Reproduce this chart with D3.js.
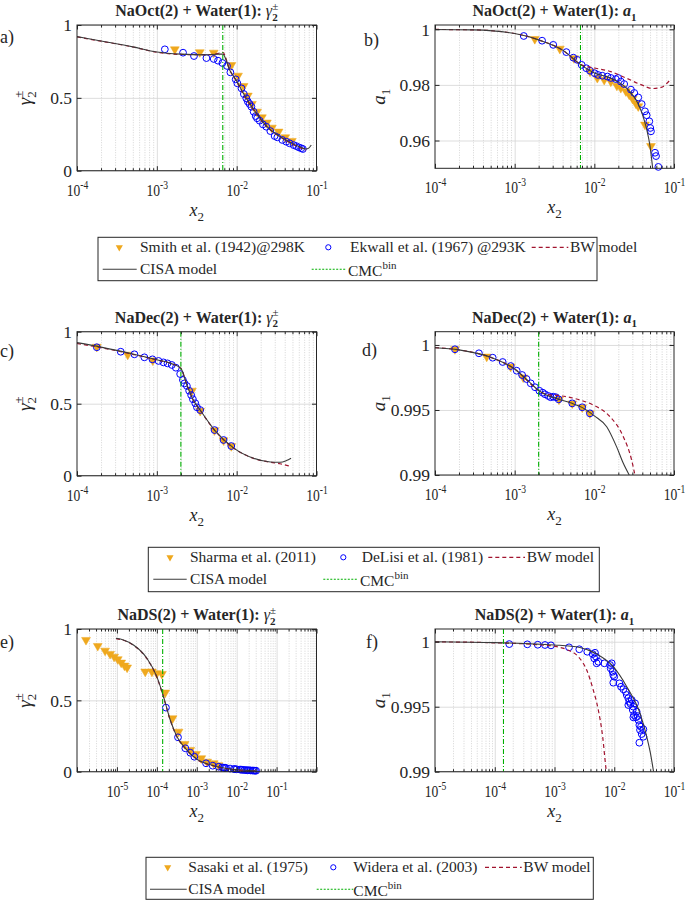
<!DOCTYPE html>
<html><head><meta charset="utf-8">
<script src="https://cdn.jsdelivr.net/npm/d3@7"></script>
<style>
body{margin:0;background:#fff}
svg{display:block}
text{font-family:"Liberation Serif","Times New Roman",Times,serif;fill:#262626}
</style>
</head><body>
<svg id="c" width="685" height="901"></svg>
<script>
// ---------------- DATA ----------------
// Panel a: NaOct gamma
const smithA = [[1.68e-3,0.833],[3.45e-3,0.813],[5.16e-3,0.81],[8.59e-3,0.725],[1.04e-2,0.652],[1.22e-2,0.581],[1.38e-2,0.515],[1.55e-2,0.458],[1.8e-2,0.405],[2.07e-2,0.366],[2.39e-2,0.33],[2.76e-2,0.295],[3.35e-2,0.268],[4.06e-2,0.229],[4.91e-2,0.204]];
const ekwallA = [[1.26e-3,0.833],[2.13e-3,0.81],[2.92e-3,0.787],[4.18e-3,0.773],[5.16e-3,0.767],[5.84e-3,0.755],[6.63e-3,0.739],[7.57e-3,0.719],[8.34e-3,0.675],[9.72e-3,0.627],[1.02e-2,0.6],[1.15e-2,0.565],[1.23e-2,0.526],[1.32e-2,0.497],[1.38e-2,0.474],[1.45e-2,0.458],[1.53e-2,0.439],[1.63e-2,0.405],[1.73e-2,0.375],[1.8e-2,0.36],[1.94e-2,0.343],[2.13e-2,0.318],[2.35e-2,0.302],[2.64e-2,0.272],[2.99e-2,0.238],[3.23e-2,0.229],[3.73e-2,0.211],[4.18e-2,0.199],[4.6e-2,0.188],[5.16e-2,0.176],[5.57e-2,0.169],[6.01e-2,0.16],[6.44e-2,0.154],[6.75e-2,0.149]];
const cisaA = [[1e-4,0.92],[2e-4,0.89],[5e-4,0.85],[1e-3,0.815],[2e-3,0.80],[4e-3,0.795],[6e-3,0.80],[6.7e-3,0.80],[8.2e-3,0.69],[9.9e-3,0.62],[1.32e-2,0.497],[1.77e-2,0.394],[2.35e-2,0.307],[3.8e-2,0.222],[6.1e-2,0.165],[7.4e-2,0.149],[8e-2,0.155],[8.6e-2,0.176]];
const bwA = [[1e-4,0.918],[2e-4,0.889],[5e-4,0.849],[1e-3,0.813],[2e-3,0.798],[4e-3,0.796],[6e-3,0.806],[6.7e-3,0.812],[8.2e-3,0.69],[9.9e-3,0.615],[1.32e-2,0.49],[1.77e-2,0.39],[2.35e-2,0.305],[3.8e-2,0.22],[6.1e-2,0.16],[7.4e-2,0.14]];
// Panel b: NaOct a1
const smithB = [[1.79e-3,0.9965],[3.69e-3,0.993],[5.55e-3,0.9896],[8.83e-3,0.9848],[1.09e-2,0.9825],[1.33e-2,0.9818],[1.61e-2,0.9812],[1.92e-2,0.9797],[2.15e-2,0.9789],[2.49e-2,0.9777],[2.74e-2,0.9765],[3.02e-2,0.975],[3.33e-2,0.9733],[3.56e-2,0.9723],[4.32e-2,0.9657],[5.14e-2,0.958]];
const ekwallB = [[1.3e-3,0.9976],[2.21e-3,0.9959],[3.05e-3,0.9944],[4.45e-3,0.9918],[5.45e-3,0.9898],[6.12e-3,0.989],[6.94e-3,0.9872],[7.94e-3,0.986],[8.82e-3,0.9851],[1.01e-2,0.9842],[1.11e-2,0.9836],[1.26e-2,0.9833],[1.46e-2,0.983],[1.61e-2,0.9825],[1.86e-2,0.9821],[1.99e-2,0.9825],[2.15e-2,0.9812],[2.37e-2,0.9803],[2.88e-2,0.9783],[3.17e-2,0.9771],[3.56e-2,0.9755],[3.93e-2,0.9731],[4.32e-2,0.9705],[4.54e-2,0.9691],[4.9e-2,0.9669],[5.04e-2,0.9645],[5.14e-2,0.9633],[5.78e-2,0.9556],[5.95e-2,0.9544],[6.36e-2,0.9505]];
const cisaB = [[1e-4,0.99995],[3e-4,0.9998],[1e-3,0.9985],[2e-3,0.9962],[4e-3,0.9925],[6.8e-3,0.9872],[1e-2,0.9843],[1.5e-2,0.9828],[2e-2,0.981],[2.5e-2,0.979],[3e-2,0.9765],[3.5e-2,0.9735],[4e-2,0.9695],[4.5e-2,0.9645],[5e-2,0.958],[5.4e-2,0.95]];
const bwB = [[1e-4,0.99995],[3e-4,0.9998],[1e-3,0.9985],[2e-3,0.9962],[4e-3,0.9925],[6.8e-3,0.9873],[1.04e-2,0.986],[1.61e-2,0.9848],[2.49e-2,0.9825],[3.85e-2,0.9801],[5.4e-2,0.9787],[6.88e-2,0.9791],[8.75e-2,0.9815]];
// Panel c: NaDec gamma
const sharmaC = [[1.77e-4,0.895],[4.32e-4,0.84],[8.9e-4,0.80],[2.75e-3,0.59],[3.49e-3,0.45],[5.28e-3,0.315],[6.85e-3,0.245],[8.56e-3,0.205]];
const delisiC = [[1.77e-4,0.892],[3.53e-4,0.861],[5.24e-4,0.843],[6.98e-4,0.822],[8.81e-4,0.808],[1.05e-3,0.797],[1.21e-3,0.787],[1.36e-3,0.78],[1.54e-3,0.769],[1.73e-3,0.75],[1.96e-3,0.706],[2.12e-3,0.665],[2.22e-3,0.641],[2.38e-3,0.623],[2.54e-3,0.59],[2.69e-3,0.56],[2.83e-3,0.531],[3.03e-3,0.503],[3.18e-3,0.475],[3.49e-3,0.456],[5.28e-3,0.317],[6.85e-3,0.248],[8.56e-3,0.206]];
const cisaC = [[1e-4,0.924],[2e-4,0.893],[5e-4,0.845],[1e-3,0.805],[1.5e-3,0.78],[2e-3,0.745],[2.38e-3,0.63],[2.8e-3,0.535],[3.49e-3,0.456],[5.28e-3,0.317],[9.3e-3,0.19],[1.63e-2,0.121],[2.64e-2,0.095],[3.5e-2,0.093],[4.2e-2,0.105],[4.8e-2,0.121]];
const bwC = [[1e-4,0.918],[2e-4,0.889],[5e-4,0.843],[1e-3,0.804],[1.5e-3,0.779],[2e-3,0.745],[2.38e-3,0.63],[2.8e-3,0.535],[3.49e-3,0.455],[5.28e-3,0.316],[9.3e-3,0.189],[1.63e-2,0.12],[2.64e-2,0.093],[3.5e-2,0.083],[4.8e-2,0.064]];
// Panel d: NaDec a1
const sharmaD = [[1.78e-4,0.99967],[4.46e-4,0.9991],[8.9e-4,0.99833],[1.28e-3,0.9975],[3.6e-3,0.9958],[5.28e-3,0.9955],[7.05e-3,0.9952],[8.8e-3,0.99474]];
const delisiD = [[1.78e-4,0.99967],[3.56e-4,0.99936],[5.3e-4,0.99902],[7.07e-4,0.99869],[8.91e-4,0.99838],[1.06e-3,0.99802],[1.24e-3,0.99769],[1.41e-3,0.99738],[1.59e-3,0.99705],[1.8e-3,0.99675],[2.04e-3,0.99648],[2.25e-3,0.99633],[2.4e-3,0.99621],[2.64e-3,0.99608],[2.83e-3,0.99598],[3.05e-3,0.99602],[3.3e-3,0.99598],[3.56e-3,0.99582],[5.28e-3,0.99551],[7.05e-3,0.99521],[8.8e-3,0.99474]];
const cisaD = [[1e-4,0.99979],[2e-4,0.99962],[5e-4,0.99905],[1e-3,0.99815],[1.5e-3,0.9972],[2e-3,0.9965],[2.5e-3,0.99615],[3.5e-3,0.99585],[5e-3,0.99555],[7e-3,0.9952],[1e-2,0.99455],[1.43e-2,0.99371],[1.9e-2,0.99218],[2.31e-2,0.9909],[2.74e-2,0.99]];
const bwD = [[1e-4,0.99979],[2e-4,0.99962],[5e-4,0.99905],[1e-3,0.99815],[2e-3,0.9965],[2.5e-3,0.9962],[3.7e-3,0.9961],[6.6e-3,0.99577],[9.7e-3,0.99538],[1.57e-2,0.99449],[2.31e-2,0.99295],[2.94e-2,0.99115],[3.23e-2,0.99]];
// Panel e: NaDS gamma
const sasakiE = [[1.68e-6,0.923],[3.31e-6,0.881],[5.06e-6,0.848],[6.75e-6,0.825],[8.51e-6,0.806],[1.05e-5,0.788],[1.28e-5,0.764],[1.55e-5,0.743],[1.8e-5,0.73],[5.12e-5,0.701],[7.54e-5,0.701],[1e-4,0.69],[1.34e-4,0.685],[1.62e-4,0.554],[2.48e-4,0.374],[3.51e-4,0.28],[4.96e-4,0.194],[6.9e-4,0.152],[9.6e-4,0.124],[1.3e-3,0.094],[1.82e-3,0.07],[2.66e-3,0.059],[3.5e-3,0.045]];
const wideraE = [[1.69e-4,0.449],[3.39e-4,0.241],[5.18e-4,0.164],[6.9e-4,0.133],[8.71e-4,0.105],[1.71e-3,0.059],[2.51e-3,0.042],[3.55e-3,0.035],[4.35e-3,0.03],[4.76e-3,0.028],[5.08e-3,0.027],[5.42e-3,0.026],[6.83e-3,0.022],[8.49e-3,0.019],[9.06e-3,0.018],[1e-2,0.017],[1.22e-2,0.015],[1.3e-2,0.014],[1.42e-2,0.013],[1.56e-2,0.012],[1.72e-2,0.011],[1.88e-2,0.010],[2.04e-2,0.010],[2.23e-2,0.009],[2.47e-2,0.008],[2.7e-2,0.008],[2.88e-2,0.007],[3.07e-2,0.007]];
const cisaE = [[9.5e-6,0.935],[1.46e-5,0.923],[2.6e-5,0.888],[5.64e-5,0.795],[1e-4,0.666],[1.47e-4,0.526],[2.17e-4,0.362],[3.2e-4,0.245],[5.18e-4,0.164],[1.02e-3,0.087],[2.66e-3,0.042],[8.45e-3,0.017],[2.96e-2,0.007]];
const bwE = [[9.5e-6,0.933],[1.46e-5,0.921],[2.6e-5,0.886],[5.64e-5,0.792],[1e-4,0.662],[1.47e-4,0.522],[2.17e-4,0.36],[3.2e-4,0.244],[5.18e-4,0.163],[1.02e-3,0.085],[2.66e-3,0.04],[8.45e-3,0.015],[2.96e-2,0.005]];
// Panel f: NaDS a1
const wideraF = [[1.75e-4,0.99982],[3.51e-4,0.9998],[5.24e-4,0.99977],[6.93e-4,0.99975],[8.73e-4,0.99972],[1.75e-3,0.99957],[2.6e-3,0.99942],[3.54e-3,0.99923],[4.35e-3,0.99905],[4.76e-3,0.99915],[4.63e-3,0.99872],[4.95e-3,0.99885],[5.08e-3,0.99834],[5.42e-3,0.99846],[6.83e-3,0.99834],[8.49e-3,0.99821],[9.06e-3,0.99834],[8.71e-3,0.99795],[9.41e-3,0.99769],[9.64e-3,0.99744],[1e-2,0.99731],[9.64e-3,0.99685],[1.22e-2,0.9968],[1.3e-2,0.99654],[1.42e-2,0.99634],[1.56e-2,0.99615],[1.62e-2,0.9959],[1.72e-2,0.99565],[1.79e-2,0.99538],[1.88e-2,0.99521],[1.72e-2,0.99513],[1.96e-2,0.99552],[2.09e-2,0.995],[2.23e-2,0.99526],[2.04e-2,0.99475],[2.14e-2,0.99436],[2.09e-2,0.99418],[2.31e-2,0.99418],[2.47e-2,0.99428],[2.53e-2,0.99398],[2.63e-2,0.99359],[2.7e-2,0.99321],[2.63e-2,0.99223],[2.88e-2,0.9929],[3.07e-2,0.99269],[3.07e-2,0.99326],[2.8e-2,0.99346],[2.37e-2,0.99462]];
const cisaF = [[1e-5,1.0],[1e-4,0.99993],[5e-4,0.99982],[1e-3,0.99975],[2.66e-3,0.99955],[5.08e-3,0.99905],[9.64e-3,0.99808],[1.62e-2,0.99654],[2.7e-2,0.99449],[3.5e-2,0.99269],[4e-2,0.9915],[4.55e-2,0.99]];
const bwF = [[1e-5,0.99999],[1e-4,0.99992],[5e-4,0.99978],[1.09e-3,0.99962],[1.7e-3,0.99935],[2.5e-3,0.99885],[3.46e-3,0.99782],[4.46e-3,0.99628],[5.41e-3,0.99475],[6.4e-3,0.99269],[7.27e-3,0.99026],[7.4e-3,0.99]];
// CMC values
const cmcOct = 6.7e-3, cmcDec = 2.0e-3, cmcDS = 1.4e-4;
// Tick values / labels
const yTicksGamma = [0, 0.5, 1];
const yTicksB = [0.96, 0.98, 1];
const yTicksDF = [0.99, 0.995, 1];
const legendLabels1 = ["Smith et al. (1942)@298K", "Ekwall et al. (1967) @293K"];
const legendLabels2 = ["Sharma et al. (2011)", "DeLisi et al. (1981)"];
const legendLabels3 = ["Sasaki et al. (1975)", "Widera et al. (2003)"];

// ---------------- DRAWING ----------------
const svg = d3.select('#c');
const AX = '#262626', ORANGE = '#EFA81E', BLUE = '#0000FF', RED = '#A2142F', GREEN = '#00B000', CISA = '#3a3a3a';
let clipId = 0;

function fmtY(d){ return d===0?'0':d===1?'1':String(d); }

function drawPanel(p) {
  const x = d3.scaleLog().domain(p.xd).range([p.L, p.R]);
  const y = d3.scaleLinear().domain(p.yd).range([p.B, p.T]);
  const g = svg.append('g');
  const lo = Math.round(Math.log10(p.xd[0])), hi = Math.round(Math.log10(p.xd[1]));
  const decades = d3.range(lo, hi+1).map(e => Math.pow(10, e));
  const minors = [];
  for (let e = lo; e < hi; e++) for (let k = 2; k <= 9; k++) minors.push(k*Math.pow(10, e));
  const H = p.B - p.T, W = p.R - p.L;
  // minor grid
  const mg = g.append('g').attr('transform', `translate(0,${p.B})`)
    .call(d3.axisBottom(x).tickValues(minors).tickSize(-H).tickFormat(''));
  mg.select('.domain').remove();
  mg.selectAll('line').attr('stroke', '#b8b8b8').attr('stroke-width', 0.6).attr('stroke-dasharray', '1,1.5');
  // major grid x
  const Mg = g.append('g').attr('transform', `translate(0,${p.B})`)
    .call(d3.axisBottom(x).tickValues(decades.slice(1, -1)).tickSize(-H).tickFormat(''));
  Mg.select('.domain').remove();
  Mg.selectAll('line').attr('stroke', '#d4d4d4').attr('stroke-width', 0.8);
  // major grid y
  const Yg = g.append('g').attr('transform', `translate(${p.L},0)`)
    .call(d3.axisLeft(y).tickValues(p.yt).tickSize(-W).tickFormat(''));
  Yg.select('.domain').remove();
  Yg.selectAll('line').attr('stroke', '#d4d4d4').attr('stroke-width', 0.8);

  // clip
  const cid = 'clip' + (clipId++);
  svg.append('clipPath').attr('id', cid).append('rect')
    .attr('x', p.L).attr('y', p.T).attr('width', W).attr('height', H);

  const line = d3.line().x(d => x(d[0])).y(d => y(d[1])).curve(d3.curveMonotoneX);
  // markers
  const tri = d3.symbol(d3.symbolTriangle, 34)();
  g.append('g').selectAll('path').data(p.tri).join('path')
    .attr('d', tri).attr('transform', d => `translate(${x(d[0])},${y(d[1])}) rotate(180)`)
    .attr('fill', ORANGE).attr('stroke', ORANGE).attr('stroke-width', 0.5);
  g.append('g').selectAll('circle').data(p.circ).join('circle')
    .attr('cx', d => x(d[0])).attr('cy', d => y(d[1])).attr('r', 3.4)
    .attr('fill', 'none').attr('stroke', BLUE).attr('stroke-width', 1);
  const lg = g.append('g').attr('clip-path', `url(#${cid})`);
  lg.append('path').datum(p.bw).attr('d', line).attr('fill', 'none')
    .attr('stroke', RED).attr('stroke-width', 1.2).attr('stroke-dasharray', '4,3');
  lg.append('path').datum(p.cisa).attr('d', line).attr('fill', 'none')
    .attr('stroke', CISA).attr('stroke-width', 1.1);
  lg.append('line').attr('x1', x(p.cmc)).attr('x2', x(p.cmc)).attr('y1', p.T).attr('y2', p.B)
    .attr('stroke', GREEN).attr('stroke-width', 1.1).attr('stroke-dasharray', '5,2,1,2');

  // frame
  g.append('rect').attr('x', p.L).attr('y', p.T).attr('width', W).attr('height', H)
    .attr('fill', 'none').attr('stroke', AX).attr('stroke-width', 1);

  // ticks
  function tk(axis, tr, vals, size, labels) {
    const a = g.append('g').attr('transform', tr).call(axis.tickValues(vals).tickSize(size).tickPadding(5).tickFormat(labels || ''));
    a.select('.domain').remove();
    a.selectAll('line').attr('stroke', AX).attr('stroke-width', 1);
    return a;
  }
  tk(d3.axisBottom(x), `translate(0,${p.B})`, minors, -2.5);
  tk(d3.axisTop(x), `translate(0,${p.T})`, minors, -2.5);
  tk(d3.axisTop(x), `translate(0,${p.T})`, decades, -4.5);
  const xb = tk(d3.axisBottom(x), `translate(0,${p.B})`, decades, -4.5, d => String(Math.round(Math.log10(d))));
  xb.selectAll('text').each(function(d) {
    const t = d3.select(this);
    const e = Math.round(Math.log10(d));
    t.text(null).attr('dy', null).attr('y', 25).attr('font-size', 17).attr('fill', AX)
      .attr('transform', 'scale(0.8,1)').style('font-family', '"Liberation Serif",serif');
    if (!p.xl.includes(e)) return;
    t.append('tspan').text('10');
    t.append('tspan').attr('dy', -7).attr('font-size', 12).text('-' + Math.abs(e));
  });
  const yl = tk(d3.axisLeft(y), `translate(${p.L},0)`, p.yt, -4.5, fmtY);
  yl.selectAll('text').attr('font-size', 17.5).attr('fill', AX).attr('dy', '0.33em')
    .style('font-family', '"Liberation Serif",serif');
  tk(d3.axisRight(y), `translate(${p.R},0)`, p.yt, -4.5);

  // title
  const cx = (p.L + p.R) / 2;
  const t = svg.append('text').attr('x', cx).attr('y', p.T - 9).attr('text-anchor', 'middle')
    .attr('font-size', 16).attr('font-weight', 'bold').attr('fill', '#000');
  t.append('tspan').text(p.title + ' ');
  if (p.kind === 'g') {
    t.append('tspan').attr('font-style', 'italic').attr('font-weight', 'normal').text('γ');
    t.append('tspan').attr('font-size', 11).attr('dy', 4.5).text('2');
    t.append('tspan').attr('font-size', 11).attr('font-weight', 'normal').attr('dx', -5.5).attr('dy', -11).text('±');
  } else {
    t.append('tspan').attr('font-style', 'italic').text('a');
    t.append('tspan').attr('font-size', 11).attr('dy', 4.5).text('1');
  }
  // y label
  const cy = (p.T + p.B) / 2;
  const yt = svg.append('text').attr('transform', `translate(${p.kind==='g' ? p.L - 46 : p.L - 50},${cy}) rotate(-90)`)
    .attr('text-anchor', 'middle').attr('font-size', 19).attr('fill', AX);
  if (p.kind === 'g') {
    yt.append('tspan').attr('font-style', 'italic').text('γ');
    yt.append('tspan').attr('font-size', 13).attr('dy', 5).text('2');
    yt.append('tspan').attr('font-size', 13).attr('dx', -6.5).attr('dy', -13).text('±');
  } else {
    yt.append('tspan').attr('font-style', 'italic').text('a');
    yt.append('tspan').attr('font-size', 13).attr('dy', 5).text('1');
  }
  // x label
  const xt = svg.append('text').attr('x', cx).attr('y', p.B + 45).attr('text-anchor', 'middle')
    .attr('font-size', 18).attr('fill', AX);
  xt.append('tspan').attr('font-style', 'italic').text('x');
  xt.append('tspan').attr('font-size', 13).attr('dy', 5).text('2');
  // panel letter
  svg.append('text').attr('x', p.lx).attr('y', p.ly).attr('font-size', 18).attr('fill', '#000').text(p.letter);
}

const colL = {L: 77, R: 316.5}, colR = {L: 435, R: 674};
drawPanel({...colL, T: 25, B: 170.7, xd: [1e-4, 1e-1], yd: [0, 1], yt: yTicksGamma, xl: [-4,-3,-2,-1],
  tri: smithA, circ: ekwallA, cisa: cisaA, bw: bwA, cmc: cmcOct, title: 'NaOct(2) + Water(1):', kind: 'g', letter: 'a)', lx: 0, ly: 43});
drawPanel({...colR, T: 25, B: 168.3, xd: [1e-4, 1e-1], yd: [0.95, 1.00155], yt: yTicksB, xl: [-4,-3,-2,-1],
  tri: smithB, circ: ekwallB, cisa: cisaB, bw: bwB, cmc: cmcOct, title: 'NaOct(2) + Water(1):', kind: 'a', letter: 'b)', lx: 364, ly: 46});
drawPanel({...colL, T: 331.7, B: 475.7, xd: [1e-4, 1e-1], yd: [0, 1], yt: yTicksGamma, xl: [-4,-3,-2,-1],
  tri: sharmaC, circ: delisiC, cisa: cisaC, bw: bwC, cmc: cmcDec, title: 'NaDec(2) + Water(1):', kind: 'g', letter: 'c)', lx: 0, ly: 357});
drawPanel({...colR, T: 331.7, B: 475, xd: [1e-4, 1e-1], yd: [0.99, 1.00102], yt: yTicksDF, xl: [-4,-3,-2,-1],
  tri: sharmaD, circ: delisiD, cisa: cisaD, bw: bwD, cmc: cmcDec, title: 'NaDec(2) + Water(1):', kind: 'a', letter: 'd)', lx: 362, ly: 356});
drawPanel({...colL, T: 629, B: 771.7, xd: [1e-6, 1], yd: [0, 1], yt: yTicksGamma, xl: [-5,-4,-3,-2,-1],
  tri: sasakiE, circ: wideraE, cisa: cisaE, bw: bwE, cmc: cmcDS, title: 'NaDS(2) + Water(1):', kind: 'g', letter: 'e)', lx: 0, ly: 648});
drawPanel({...colR, T: 629, B: 771.7, xd: [1e-5, 1e-1], yd: [0.99, 1.00098], yt: yTicksDF, xl: [-5,-4,-3,-2,-1],
  tri: [], circ: wideraF, cisa: cisaF, bw: bwF, cmc: cmcDS, title: 'NaDS(2) + Water(1):', kind: 'a', letter: 'f)', lx: 366, ly: 648});

// ---------------- LEGENDS ----------------
function legend(box, pos, labels) {
  const [x0, y0, x1, y1] = box;
  const g = svg.append('g');
  g.append('rect').attr('x', x0).attr('y', y0).attr('width', x1 - x0).attr('height', y1 - y0)
    .attr('fill', '#fff').attr('stroke', AX).attr('stroke-width', 1);
  const r1 = y0 + 15, r2 = y0 + 37;
  const txt = (x, yb, s) => g.append('text').attr('x', x).attr('y', yb).attr('font-size', 15.5).attr('fill', '#000').text(s);
  g.append('path').attr('d', d3.symbol(d3.symbolTriangle, 22)())
    .attr('transform', `translate(${pos.tri},${r1 - 5}) rotate(180)`).attr('fill', ORANGE);
  txt(pos.t1, r1, labels[0]);
  g.append('circle').attr('cx', pos.circ).attr('cy', r1 - 5).attr('r', 2.6).attr('fill', 'none').attr('stroke', BLUE).attr('stroke-width', 1);
  txt(pos.t2, r1, labels[1]);
  g.append('line').attr('x1', pos.dash[0]).attr('x2', pos.dash[1]).attr('y1', r1 - 5).attr('y2', r1 - 5)
    .attr('stroke', RED).attr('stroke-width', 1.2).attr('stroke-dasharray', '4,3');
  txt(pos.t3, r1, 'BW model');
  g.append('line').attr('x1', pos.solid[0]).attr('x2', pos.solid[1]).attr('y1', r2 - 5).attr('y2', r2 - 5)
    .attr('stroke', CISA).attr('stroke-width', 1.1);
  txt(pos.t1, r2, 'CISA model');
  g.append('line').attr('x1', pos.cmc[0]).attr('x2', pos.cmc[1]).attr('y1', r2 - 5).attr('y2', r2 - 5)
    .attr('stroke', GREEN).attr('stroke-width', 1.1).attr('stroke-dasharray', '2,1.5');
  const c = txt(pos.tc, r2 + 2, 'CMC');
  c.append('tspan').attr('font-size', 11).attr('dy', -7).text('bin');
}
legend([98, 237.3, 597, 280.7], {tri: 119.3, t1: 140, circ: 328.3, t2: 350, dash: [531.7, 568.3], t3: 570, solid: [102.7, 136.7], cmc: [311.7, 346.7], tc: 348}, legendLabels1);
legend([148.3, 547.3, 599.3, 591.7], {tri: 170, t1: 190, circ: 343.3, t2: 361.7, dash: [488.3, 525], t3: 526.7, solid: [153.3, 186.7], cmc: [323.3, 358.3], tc: 360}, legendLabels2);
legend([146, 857.3, 593.3, 899.3], {tri: 167.7, t1: 188.3, circ: 333.3, t2: 353.3, dash: [485, 521.7], t3: 523.3, solid: [150, 186.7], cmc: [316.7, 353.3], tc: 353.3}, legendLabels3);
</script>
</body></html>
